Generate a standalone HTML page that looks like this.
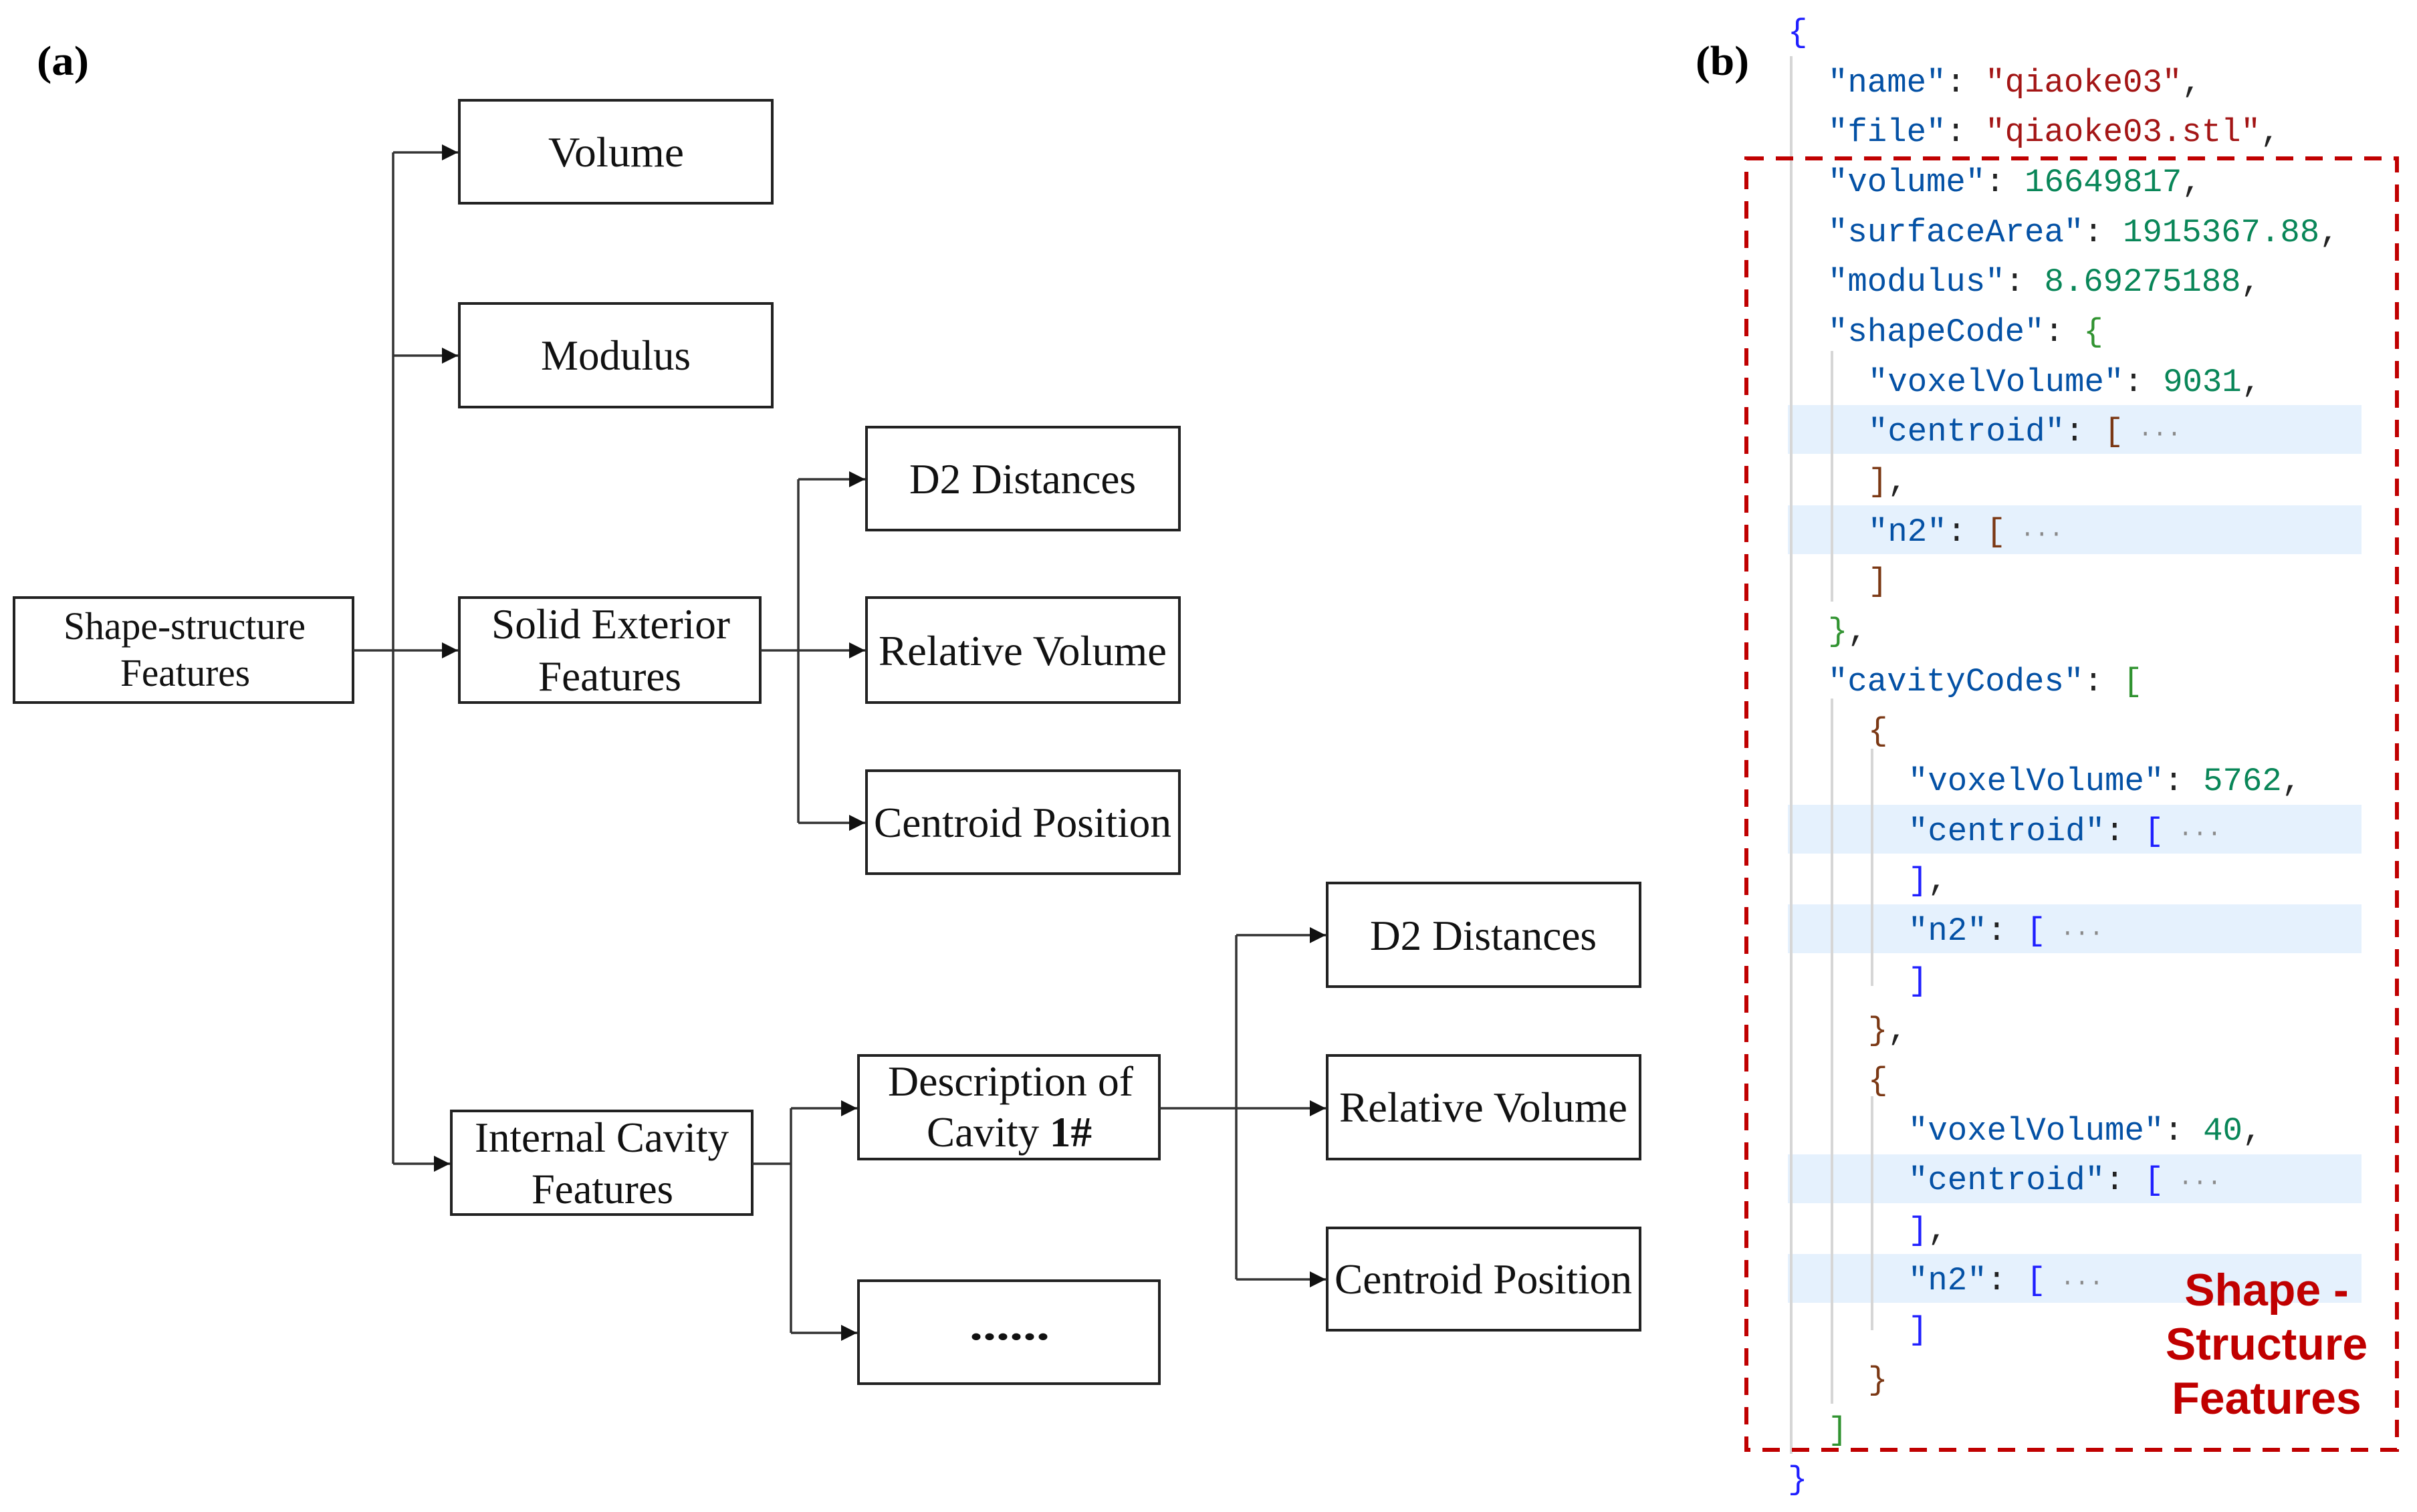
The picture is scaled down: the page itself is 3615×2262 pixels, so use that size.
<!DOCTYPE html>
<html><head><meta charset="utf-8"><style>
html,body{margin:0;padding:0;background:#fff;}
svg{display:block;}
.b{font-family:"Liberation Serif",serif;font-size:64px;fill:#111;}
.c{font-family:"Liberation Mono",monospace;font-size:49px;}
.k{fill:#0451a5}.s{fill:#a31515}.n{fill:#098658}.p{fill:#222}
.bl{fill:#1f1fff}.gr{fill:#319331}.br{fill:#7b3814}.el{fill:#8a8a8a}
</style></head><body>
<svg width="3615" height="2262" viewBox="0 0 3615 2262" xmlns="http://www.w3.org/2000/svg">
<defs><marker id="a" viewBox="0 0 10 10" refX="10" refY="5" markerWidth="24" markerHeight="28" markerUnits="userSpaceOnUse" orient="auto"><path d="M0,0 L10,5 L0,10 Z" fill="#111"/></marker></defs>
<text x="55" y="112" font-family="Liberation Serif,serif" font-weight="bold" font-size="62" textLength="78" lengthAdjust="spacingAndGlyphs">(a)</text>
<text x="2536" y="112" font-family="Liberation Serif,serif" font-weight="bold" font-size="62" textLength="80" lengthAdjust="spacingAndGlyphs">(b)</text>
<g fill="none" stroke="#222" stroke-width="4">
<rect x="687" y="150" width="468" height="154"/>
<rect x="687" y="454" width="468" height="155"/>
<rect x="21" y="894" width="507" height="157"/>
<rect x="687" y="894" width="450" height="157"/>
<rect x="1296" y="639" width="468" height="154"/>
<rect x="1296" y="894" width="468" height="157"/>
<rect x="1296" y="1153" width="468" height="154"/>
<rect x="1985" y="1321" width="468" height="155"/>
<rect x="1985" y="1579" width="468" height="155"/>
<rect x="1985" y="1837" width="468" height="153"/>
<rect x="1284" y="1579" width="450" height="155"/>
<rect x="1284" y="1916" width="450" height="154"/>
<rect x="675" y="1662" width="450" height="155"/>
</g>
<g fill="none" stroke="#333" stroke-width="3.5">
<path d="M528,973 H588"/>
<path d="M588,228 V1741"/>
<path d="M588,228 H685" marker-end="url(#a)"/>
<path d="M588,532 H685" marker-end="url(#a)"/>
<path d="M588,973 H685" marker-end="url(#a)"/>
<path d="M588,1741 H673" marker-end="url(#a)"/>
<path d="M1137,973 H1194"/>
<path d="M1194,717 V1231"/>
<path d="M1194,717 H1294" marker-end="url(#a)"/>
<path d="M1194,973 H1294" marker-end="url(#a)"/>
<path d="M1194,1231 H1294" marker-end="url(#a)"/>
<path d="M1125,1741 H1183"/>
<path d="M1183,1658 V1994"/>
<path d="M1183,1658 H1282" marker-end="url(#a)"/>
<path d="M1183,1994 H1282" marker-end="url(#a)"/>
<path d="M1734,1658 H1849"/>
<path d="M1849,1399 V1914"/>
<path d="M1849,1399 H1983" marker-end="url(#a)"/>
<path d="M1849,1658 H1983" marker-end="url(#a)"/>
<path d="M1849,1914 H1983" marker-end="url(#a)"/>
</g>
<g class="b" lengthAdjust="spacingAndGlyphs">
<text x="820" y="249" textLength="203" lengthAdjust="spacingAndGlyphs">Volume</text>
<text x="809" y="553" textLength="224" lengthAdjust="spacingAndGlyphs">Modulus</text>
<text x="95" y="956" font-size="58" textLength="362" lengthAdjust="spacingAndGlyphs">Shape-structure</text>
<text x="180" y="1026" font-size="58" textLength="194" lengthAdjust="spacingAndGlyphs">Features</text>
<text x="735" y="955" textLength="357" lengthAdjust="spacingAndGlyphs">Solid Exterior</text>
<text x="805" y="1033" textLength="214" lengthAdjust="spacingAndGlyphs">Features</text>
<text x="1360" y="738" textLength="339" lengthAdjust="spacingAndGlyphs">D2 Distances</text>
<text x="1314" y="995" textLength="431" lengthAdjust="spacingAndGlyphs">Relative Volume</text>
<text x="1307" y="1252" textLength="445" lengthAdjust="spacingAndGlyphs">Centroid Position</text>
<text x="2049" y="1421" textLength="339" lengthAdjust="spacingAndGlyphs">D2 Distances</text>
<text x="2003" y="1678" textLength="431" lengthAdjust="spacingAndGlyphs">Relative Volume</text>
<text x="1996" y="1935" textLength="445" lengthAdjust="spacingAndGlyphs">Centroid Position</text>
<text x="1328" y="1639" textLength="367" lengthAdjust="spacingAndGlyphs">Description of</text>
<text x="1386" y="1715" textLength="247" lengthAdjust="spacingAndGlyphs">Cavity <tspan font-weight="bold">1#</tspan></text>
<text x="1450" y="2004" font-weight="bold" textLength="120" lengthAdjust="spacingAndGlyphs">......</text>
<text x="710" y="1723" textLength="380" lengthAdjust="spacingAndGlyphs">Internal Cavity</text>
<text x="795" y="1800" textLength="212" lengthAdjust="spacingAndGlyphs">Features</text>
</g>
<g fill="#e5f1fd">
<rect x="2674" y="606" width="858" height="73"/>
<rect x="2674" y="756" width="858" height="73"/>
<rect x="2674" y="1204" width="858" height="73"/>
<rect x="2674" y="1353" width="858" height="73"/>
<rect x="2674" y="1727" width="858" height="73"/>
<rect x="2674" y="1876" width="858" height="73"/>
</g>
<g stroke="#d6d6d6" stroke-width="4">
<path d="M2679,84 V2175"/>
<path d="M2740,525 V900"/>
<path d="M2740,1045 V2100"/>
<path d="M2800,1120 V1475"/>
<path d="M2800,1640 V1990"/>
</g>
<g class="c">
<text x="2674" y="62" class="bl">{</text>
<text x="2734" y="137"><tspan class="k">"name"</tspan><tspan class="p">: </tspan><tspan class="s">"qiaoke03"</tspan><tspan class="p">,</tspan></text>
<text x="2734" y="211"><tspan class="k">"file"</tspan><tspan class="p">: </tspan><tspan class="s">"qiaoke03.stl"</tspan><tspan class="p">,</tspan></text>
<text x="2734" y="286"><tspan class="k">"volume"</tspan><tspan class="p">: </tspan><tspan class="n">16649817</tspan><tspan class="p">,</tspan></text>
<text x="2734" y="361"><tspan class="k">"surfaceArea"</tspan><tspan class="p">: </tspan><tspan class="n">1915367.88</tspan><tspan class="p">,</tspan></text>
<text x="2734" y="435"><tspan class="k">"modulus"</tspan><tspan class="p">: </tspan><tspan class="n">8.69275188</tspan><tspan class="p">,</tspan></text>
<text x="2734" y="510"><tspan class="k">"shapeCode"</tspan><tspan class="p">: </tspan><tspan class="gr">{</tspan></text>
<text x="2794" y="585"><tspan class="k">"voxelVolume"</tspan><tspan class="p">: </tspan><tspan class="n">9031</tspan><tspan class="p">,</tspan></text>
<text x="2794" y="659"><tspan class="k">"centroid"</tspan><tspan class="p">: </tspan><tspan class="br">[</tspan><tspan class="el" font-size="36"> ···</tspan></text>
<text x="2794" y="734"><tspan class="br">]</tspan><tspan class="p">,</tspan></text>
<text x="2794" y="809"><tspan class="k">"n2"</tspan><tspan class="p">: </tspan><tspan class="br">[</tspan><tspan class="el" font-size="36"> ···</tspan></text>
<text x="2794" y="883" class="br">]</text>
<text x="2734" y="958"><tspan class="gr">}</tspan><tspan class="p">,</tspan></text>
<text x="2734" y="1033"><tspan class="k">"cavityCodes"</tspan><tspan class="p">: </tspan><tspan class="gr">[</tspan></text>
<text x="2794" y="1107" class="br">{</text>
<text x="2854" y="1182"><tspan class="k">"voxelVolume"</tspan><tspan class="p">: </tspan><tspan class="n">5762</tspan><tspan class="p">,</tspan></text>
<text x="2854" y="1257"><tspan class="k">"centroid"</tspan><tspan class="p">: </tspan><tspan class="bl">[</tspan><tspan class="el" font-size="36"> ···</tspan></text>
<text x="2854" y="1331"><tspan class="bl">]</tspan><tspan class="p">,</tspan></text>
<text x="2854" y="1406"><tspan class="k">"n2"</tspan><tspan class="p">: </tspan><tspan class="bl">[</tspan><tspan class="el" font-size="36"> ···</tspan></text>
<text x="2854" y="1481" class="bl">]</text>
<text x="2794" y="1555"><tspan class="br">}</tspan><tspan class="p">,</tspan></text>
<text x="2794" y="1630" class="br">{</text>
<text x="2854" y="1705"><tspan class="k">"voxelVolume"</tspan><tspan class="p">: </tspan><tspan class="n">40</tspan><tspan class="p">,</tspan></text>
<text x="2854" y="1779"><tspan class="k">"centroid"</tspan><tspan class="p">: </tspan><tspan class="bl">[</tspan><tspan class="el" font-size="36"> ···</tspan></text>
<text x="2854" y="1854"><tspan class="bl">]</tspan><tspan class="p">,</tspan></text>
<text x="2854" y="1929"><tspan class="k">"n2"</tspan><tspan class="p">: </tspan><tspan class="bl">[</tspan><tspan class="el" font-size="36"> ···</tspan></text>
<text x="2854" y="2003" class="bl">]</text>
<text x="2794" y="2078" class="br">}</text>
<text x="2734" y="2153" class="gr">]</text>
<text x="2674" y="2227" class="bl">}</text>
</g>
<rect x="2612" y="237" width="973" height="1932" fill="none" stroke="#c00000" stroke-width="6" stroke-dasharray="26,18"/>
<g font-family="Liberation Sans,sans-serif" font-weight="bold" font-size="68" fill="#c00000" text-anchor="middle">
<text x="3390" y="1953">Shape -</text>
<text x="3390" y="2034">Structure</text>
<text x="3390" y="2115">Features</text>
</g>
</svg>
</body></html>
